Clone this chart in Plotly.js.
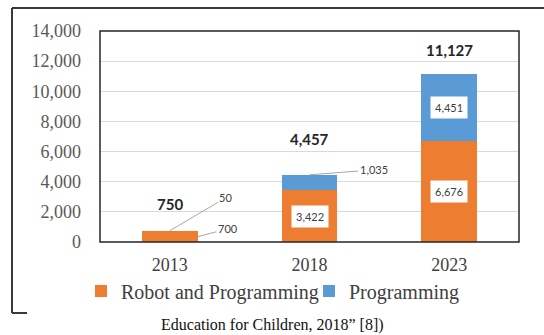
<!DOCTYPE html>
<html>
<head>
<meta charset="utf-8">
<script src="https://cdn.plot.ly/plotly-3.0.1.min.js"></script>
<style>html,body{margin:0;padding:0;background:#fff;}#chart{width:544px;height:335px;}</style>
</head>
<body>
<div id="chart"></div>
<script>
const years = ["2013", "2018", "2023"];
const robotProgramming = [700, 3422, 6676];
const programming = [50, 1035, 4451];
const seriesNames = ["Robot and Programming", "Programming"];
const caption = "Education for Children, 2018\u201d [8])";

const totals = years.map((_, i) => robotProgramming[i] + programming[i]);
const fmt = v => v.toLocaleString("en-US");

const SERIF = "Liberation Serif";
const SANS = "Lato";
const orange = "#ED7D31", blue = "#5B9BD5";
const barWidth = 0.4;
const traces = [
  {type: "bar", name: seriesNames[0], x: years, y: robotProgramming, marker: {color: orange}, width: barWidth, hoverinfo: "none"},
  {type: "bar", name: seriesNames[1], x: years, y: programming, marker: {color: blue}, width: barWidth, hoverinfo: "none"}
];

// annotation x uses category index (numeric) so that "2013"-like strings are not read as positions
const annotations = [];
const totalShift = [27, 36, 24];
years.forEach((yr, i) => {
  annotations.push({x: i, y: totals[i], xref: "x", yref: "y", text: "<b>" + fmt(totals[i]) + "</b>", showarrow: false, yshift: totalShift[i],
    font: {family: SANS, size: 15, color: "#262626"}});
});
// white-boxed inner labels (2018 orange, 2023 both)
[[1, 0], [2, 0], [2, 1]].forEach(([i, s]) => {
  const base = s === 0 ? 0 : robotProgramming[i];
  const val = s === 0 ? robotProgramming[i] : programming[i];
  annotations.push({x: i, y: base + val / 2, xref: "x", yref: "y", text: fmt(val), showarrow: false,
    bgcolor: "#ffffff", borderpad: 4, font: {family: SANS, size: 11, color: "#404040"}});
});
// callouts
const callFont = {family: SANS, size: 11, color: "#404040"};
const lineCol = "#a6a6a6";
annotations.push({x: 0, y: totals[0], xref: "x", yref: "y", text: fmt(programming[0]), showarrow: true, arrowhead: 0, arrowwidth: 1, arrowcolor: lineCol, standoff: 0, ax: 56, ay: -33, font: callFont});
annotations.push({x: barWidth / 2, y: robotProgramming[0] / 2, xref: "x", yref: "y", text: fmt(robotProgramming[0]), showarrow: true, arrowhead: 0, arrowwidth: 1, arrowcolor: lineCol, ax: 30, ay: -8, font: callFont});
annotations.push({x: 1, y: totals[1], xref: "x", yref: "y", text: fmt(programming[1]), showarrow: true, arrowhead: 0, arrowwidth: 1, arrowcolor: lineCol, ax: 64, ay: -5, font: callFont});

const toPx = v => (v - 100) / 419, toPy = v => (242 - v) / 211;
// caption
annotations.push({xref: "paper", yref: "paper", x: toPx(272), y: toPy(325), yanchor: "middle", text: caption, showarrow: false,
  font: {family: SERIF, size: 16, color: "#111"}});

const frame = "#3a3a3a";
const shapes = [
  {type: "rect", xref: "paper", yref: "paper", x0: 0, x1: 1, y0: 0, y1: 1, line: {color: "#262626", width: 1.5}},
  {type: "line", xref: "paper", yref: "paper", x0: toPx(12), x1: toPx(544), y0: toPy(8), y1: toPy(8), line: {color: frame, width: 2}},
  {type: "line", xref: "paper", yref: "paper", x0: toPx(12), x1: toPx(12), y0: toPy(8), y1: toPy(313), line: {color: frame, width: 2}},
  {type: "line", xref: "paper", yref: "paper", x0: toPx(12), x1: toPx(27), y0: toPy(313), y1: toPy(313), line: {color: frame, width: 2}}
];

const layout = {
  width: 544, height: 335,
  margin: {l: 100, r: 25, t: 31, b: 93},
  paper_bgcolor: "#fff", plot_bgcolor: "#fff",
  barmode: "stack",
  showlegend: true,
  legend: {orientation: "h", x: toPx(81), xanchor: "left", y: toPy(291), yanchor: "middle", traceorder: "normal",
    bgcolor: "rgba(0,0,0,0)",
    font: {family: SERIF, size: 20, color: "#404040"}, itemwidth: 30, tracegroupgap: 0,
    entrywidthmode: "pixels", entrywidth: 183},
  xaxis: {type: "category", range: [-0.5, 2.5], autorange: false, showgrid: false, showline: false, zeroline: false, ticks: "", ticklabelstandoff: 10,
    tickfont: {family: SERIF, size: 18, color: "#404040"}},
  yaxis: {range: [0, 14000], autorange: false, dtick: 2000, tickformat: ",d", showgrid: true, gridcolor: "#d9d9d9", gridwidth: 1, zeroline: false,
    showline: false, ticks: "", ticklabelstandoff: 18,
    tickfont: {family: SERIF, size: 18, color: "#595959"}},
  annotations: annotations,
  shapes: shapes
};

Plotly.newPlot("chart", traces, layout, {staticPlot: true, displayModeBar: false});
</script>
</body>
</html>
